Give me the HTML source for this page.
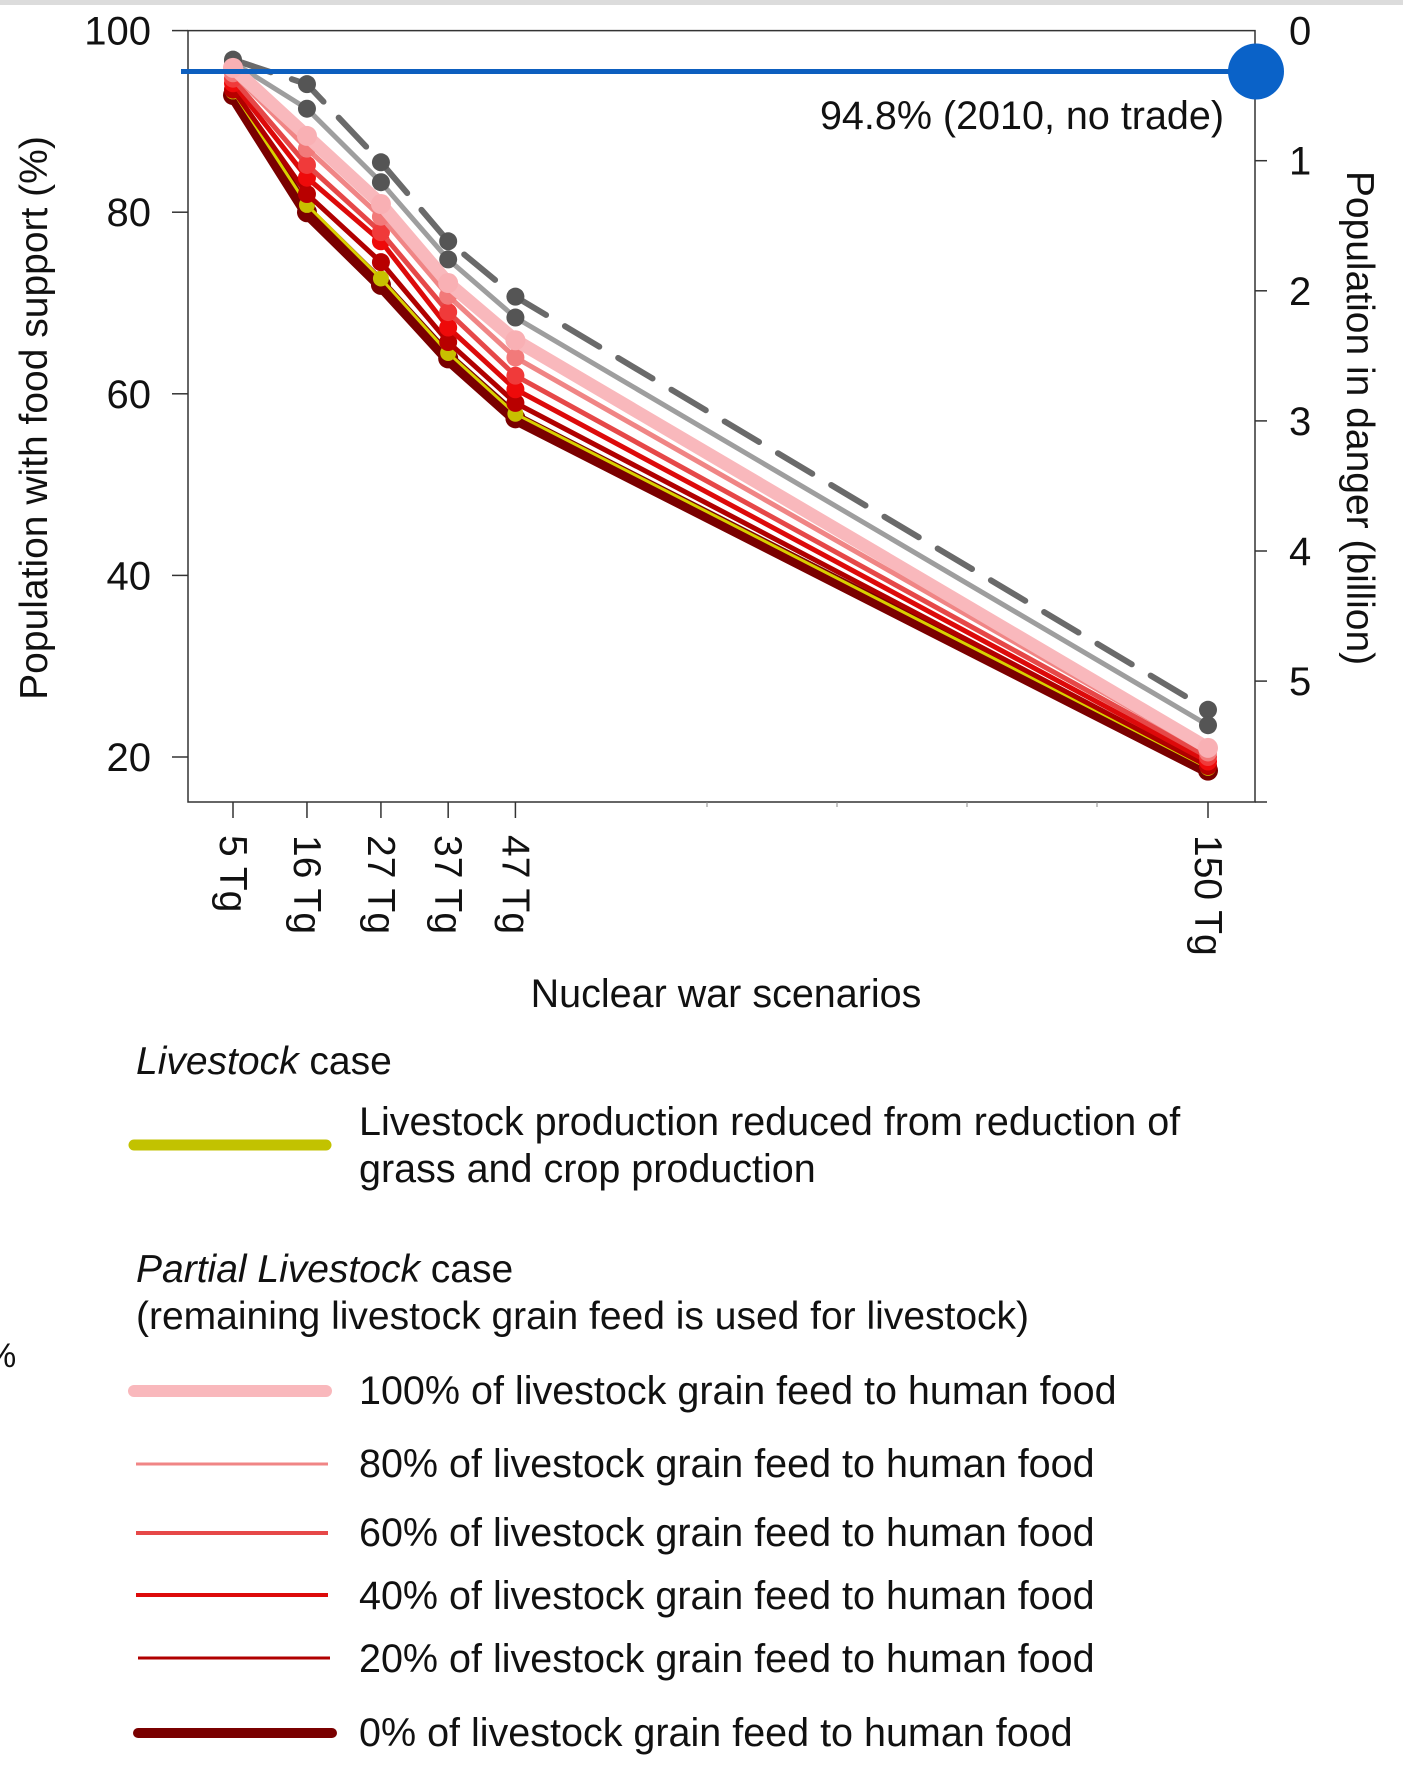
<!DOCTYPE html>
<html><head><meta charset="utf-8"><style>
html,body{margin:0;padding:0;background:#fff;}
body{width:1403px;height:1779px;overflow:hidden;position:relative;font-family:"Liberation Sans",sans-serif;}
svg text{font-family:"Liberation Sans",sans-serif;fill:#111;}
</style></head><body>
<svg id="chart" width="1403" height="1779" viewBox="0 0 1403 1779" xmlns="http://www.w3.org/2000/svg">
<rect x="0" y="0" width="1403" height="5" fill="#dcdcdc"/>
<g id="plot"></g>
<g id="legend">
  <text x="136" y="1074" font-size="39"><tspan font-style="italic">Livestock</tspan> case</text>
  <line x1="134" y1="1145" x2="326" y2="1145" stroke="#c2c200" stroke-width="11" stroke-linecap="round"/>
  <text x="359" y="1135" font-size="39.5">Livestock production reduced from reduction of</text>
  <text x="359" y="1182" font-size="39.5">grass and crop production</text>
  <text x="136" y="1282" font-size="39"><tspan font-style="italic">Partial Livestock</tspan> case</text>
  <text x="136" y="1329" font-size="39">(remaining livestock grain feed is used for livestock)</text>
  <line x1="134" y1="1391" x2="326" y2="1391" stroke="#f9b8bc" stroke-width="12" stroke-linecap="round"/>
  <text x="359" y="1404" font-size="39.5">100% of livestock grain feed to human food</text>
  <line x1="136" y1="1464" x2="328" y2="1464" stroke="#f08585" stroke-width="3"/>
  <text x="359" y="1477" font-size="39.5">80% of livestock grain feed to human food</text>
  <line x1="136" y1="1533" x2="328" y2="1533" stroke="#e64848" stroke-width="4"/>
  <text x="359" y="1546" font-size="39.5">60% of livestock grain feed to human food</text>
  <line x1="136" y1="1595" x2="328" y2="1595" stroke="#dd0a0a" stroke-width="4"/>
  <text x="359" y="1609" font-size="39.5">40% of livestock grain feed to human food</text>
  <line x1="138" y1="1658" x2="330" y2="1658" stroke="#b00000" stroke-width="3"/>
  <text x="359" y="1672" font-size="39.5">20% of livestock grain feed to human food</text>
  <line x1="138" y1="1733" x2="332" y2="1733" stroke="#7a0000" stroke-width="10" stroke-linecap="round"/>
  <text x="359" y="1746" font-size="39.5">0% of livestock grain feed to human food</text>
  <text x="-14" y="1367" font-size="34">%</text>
</g>
</svg>
<script>
const scenarios = [5, 16, 27, 37, 47, 150];
const scenarioLabels = ["5 Tg", "16 Tg", "27 Tg", "37 Tg", "47 Tg", "150 Tg"];
const leftTicks = [20, 40, 60, 80, 100];
const rightTicks = [0, 1, 2, 3, 4, 5];
const dashedGray = [96.8, 94.1, 85.5, 76.8, 70.7, 25.2];
const solidGray = [96.5, 91.4, 83.3, 74.8, 68.4, 23.5];
const feed100 = [95.9, 88.4, 80.9, 72.2, 65.9, 21.0];
const feed80 = [95.3, 87.0, 79.5, 70.8, 64.0, 20.5];
const feed60 = [94.7, 85.2, 77.8, 69.0, 62.0, 20.0];
const feed40 = [94.2, 83.8, 76.8, 67.3, 60.5, 19.5];
const feed20 = [93.5, 82.0, 74.5, 65.7, 59.0, 19.0];
const livestock = [93.3, 80.8, 72.7, 64.5, 57.8, 18.8];
const feed0 = [92.9, 80.0, 72.0, 63.9, 57.3, 18.5];
const baselineValue = [95.5];

const NS = "http://www.w3.org/2000/svg";
const plot = document.getElementById("plot");
const L = 188, R = 1255, T = 30.6, B = 802;
function x(t){ return 233 + (t - 5) * (1208 - 233) / 145; }
function y(v){ return T + (100 - v) * (757 - T) / 80; }
function yr(b){ return T + b * 130.1; }
function mk(tag, attrs, parent){
  const e = document.createElementNS(NS, tag);
  for (const k in attrs) e.setAttribute(k, attrs[k]);
  (parent || plot).appendChild(e);
  return e;
}
let fr = mk("path", {d:`M${L} ${T}H${R}V${B}H${L}Z`, fill:"none", stroke:"#333", "stroke-width":1.5});


mk("line",{x1:R,y1:B,x2:R+12,y2:B,stroke:"#333","stroke-width":1.5});
leftTicks.forEach(v=>{
  const tk = mk("line",{x1:L-16,y1:y(v),x2:L,y2:y(v),stroke:"#333","stroke-width":1.5});
  
  
  const t = mk("text",{x:151,y:y(v)+14,"font-size":40,"text-anchor":"end"});
  t.textContent = v;
  
  
});
rightTicks.forEach(b=>{
  if (b>0){
    const tk = mk("line",{x1:R,y1:yr(b),x2:R+12,y2:yr(b),stroke:"#333","stroke-width":1.5});
    
    
  }
  const t = mk("text",{x:1289,y:yr(b)+14,"font-size":40});
  t.textContent = b;
  
  
});
[707,837,967,1097].forEach(px=>mk("line",{x1:px,y1:B,x2:px,y2:B+5,stroke:"#888","stroke-width":1}));
scenarios.forEach((s,i)=>{
  const tk = mk("line",{x1:x(s),y1:B,x2:x(s),y2:B+16,stroke:"#333","stroke-width":1.5});
  
  
  const t = mk("text",{x:0,y:0,"font-size":39,transform:`translate(${x(s)-13},835) rotate(90)`});
  t.textContent = scenarioLabels[i];
  
  
});
let yt = mk("text",{x:0,y:0,"font-size":39,"text-anchor":"middle",transform:"translate(47,418) rotate(-90)"});
yt.textContent = "Population with food support (%)";


let rt = mk("text",{x:0,y:0,"font-size":39,"text-anchor":"middle",transform:"translate(1347,418) rotate(90)"});
rt.textContent = "Population in danger (billion)";


let xt = mk("text",{x:726,y:1007,"font-size":39.5,"text-anchor":"middle"});
xt.textContent = "Nuclear war scenarios";



function series(vals, name, color, width, dotColor, dotR, dash){
  const g = mk("g",{});
  
  
  const pts = vals.map((v,i)=>`${x(scenarios[i])},${y(v)}`).join(" ");
  const a = {points:pts,fill:"none",stroke:color,"stroke-width":width,"stroke-linejoin":"round","stroke-linecap":"round"};
  if (dash) a["stroke-dasharray"] = dash;
  mk("polyline",a,g);
  vals.forEach((v,i)=>{
    const c = mk("circle",{cx:x(scenarios[i]),cy:y(v),r:dotR,fill:dotColor},g);
    
    
  });
}
series(dashedGray,"dashed-gray-series","#6a6a6a",6,"#555",9,"40 22");
series(solidGray,"solid-gray-series","#9e9e9e",5,"#555",9);
series(feed0,"feed-0-series","#7a0000",13,"#7a0000",10);
series(livestock,"livestock-series","#d8d000",3,"#c8c000",8);
series(feed20,"feed-20-series","#b00000",5,"#b80000",9);
series(feed40,"feed-40-series","#dd0a0a",5,"#ee0a0a",9);
series(feed60,"feed-60-series","#e64848",5,"#f03a3a",9);
series(feed80,"feed-80-series","#f08585",5,"#f27a7a",9);
series(feed100,"feed-100-series","#f9b8bc",13,"#f9b0b4",10);

const by = y(baselineValue[0]);
let bl = mk("line",{x1:181,y1:by,x2:1256,y2:by,stroke:"#0d5fbf","stroke-width":5});


let bc = mk("circle",{cx:1256,cy:by,r:28,fill:"#0a62c8"});


let bt = mk("text",{x:1224,y:129,"font-size":39.5,"text-anchor":"end"});
bt.textContent = "94.8% (2010, no trade)";


</script>
</body></html>
